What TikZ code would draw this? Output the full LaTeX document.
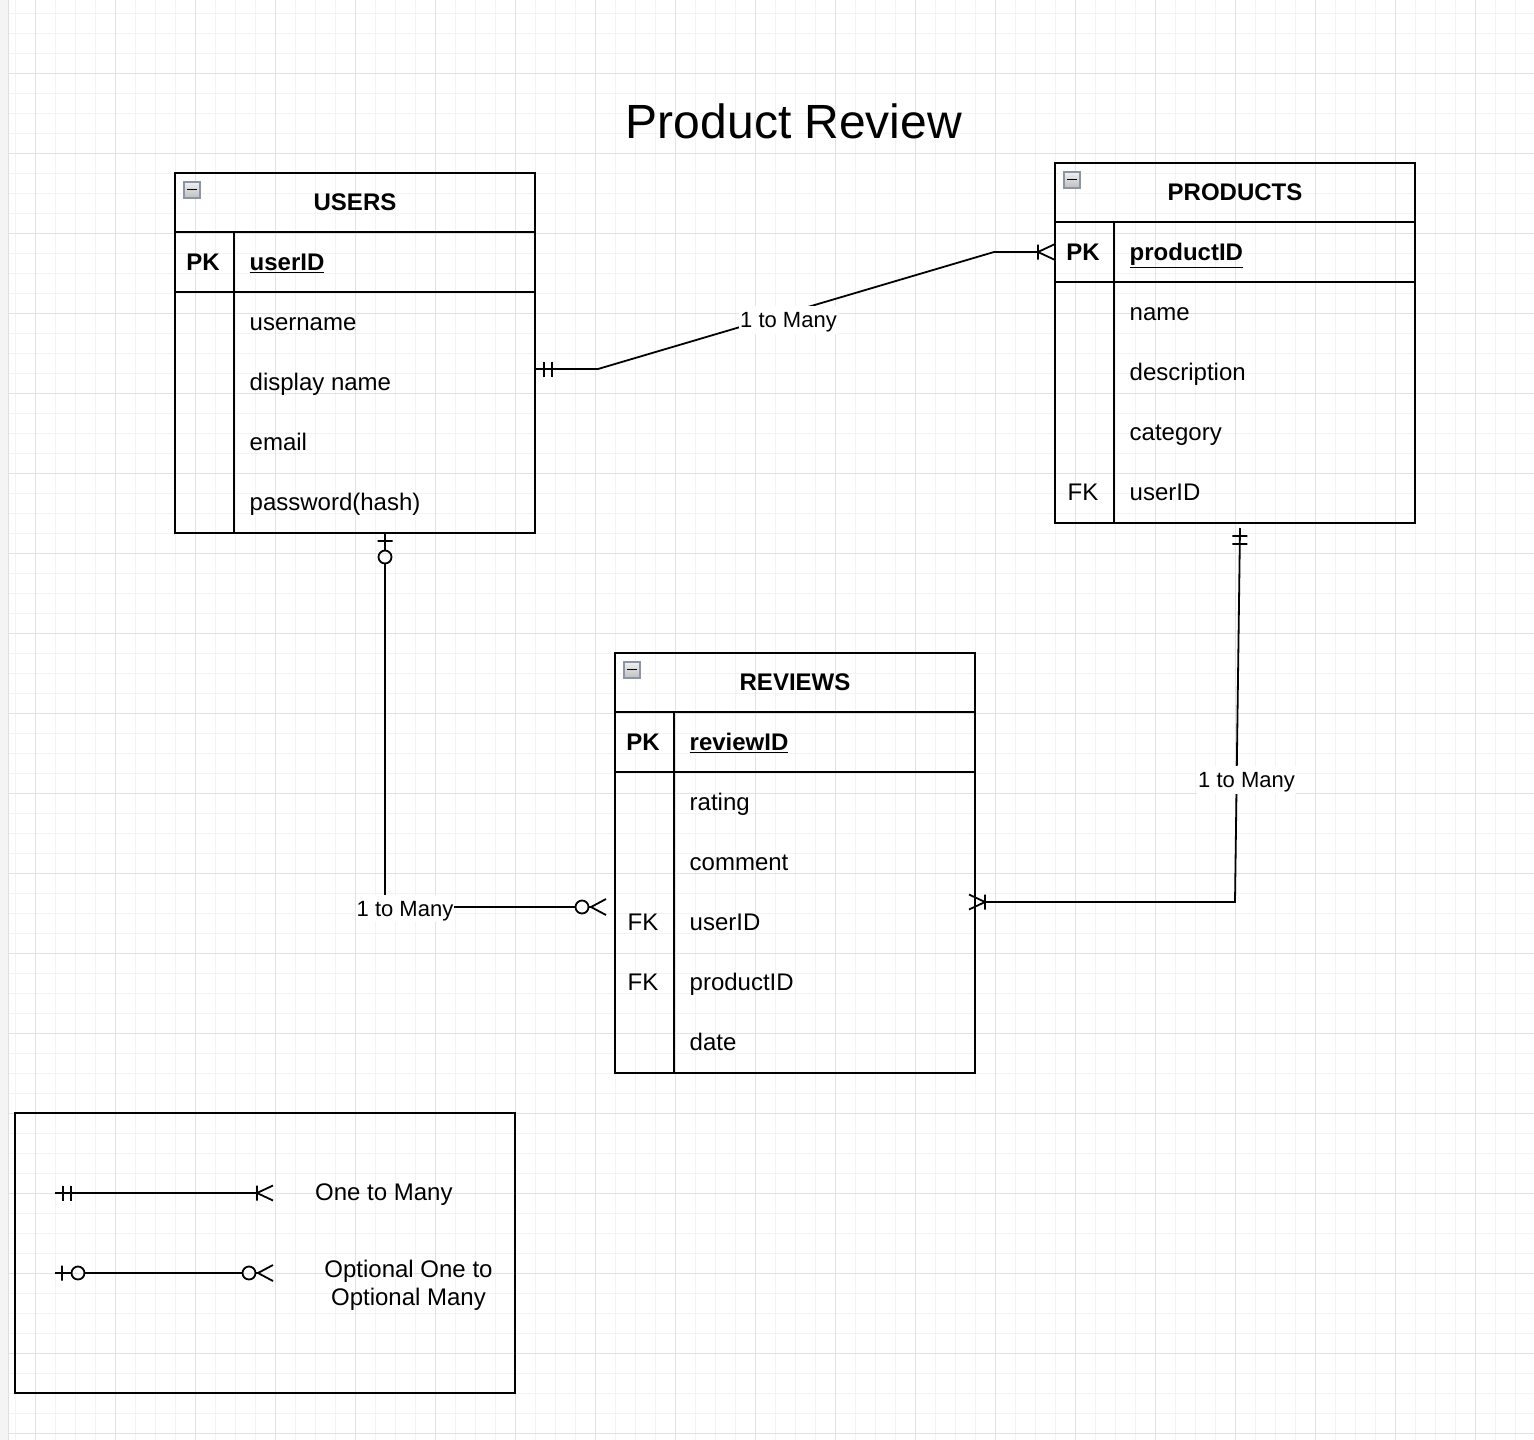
\documentclass[tikz,border=0pt]{standalone}
\usepackage{fontspec}
\setmainfont{Liberation Sans}
\usetikzlibrary{%
  calc,arrows.meta,positioning}

\definecolor{gridlight}{HTML}{F3F3F3}
\definecolor{griddark}{HTML}{E2E2E2}
\definecolor{iconedge}{HTML}{8A96A8}

% crow's foot tips
\pgfdeclarearrow{
  name = ERone,
  parameters = {\the\pgflinewidth},
  setup code = {
    \pgfarrowssettipend{0pt}
    \pgfarrowssetlineend{0pt}
    \pgfarrowssetbackend{-17pt}
    \pgfarrowssetvisualbackend{-17pt}
    \pgfarrowshullpoint{0pt}{7.5pt}
    \pgfarrowshullpoint{0pt}{-7.5pt}
    \pgfarrowshullpoint{-17pt}{7.5pt}
    \pgfarrowshullpoint{-17pt}{-7.5pt}
  },
  drawing code = {
    \pgfsetdash{}{0pt}
    \pgfpathmoveto{\pgfpoint{-8pt}{7.5pt}}
    \pgfpathlineto{\pgfpoint{-8pt}{-7.5pt}}
    \pgfpathmoveto{\pgfpoint{-16pt}{7.5pt}}
    \pgfpathlineto{\pgfpoint{-16pt}{-7.5pt}}
    \pgfusepathqstroke
  }
}
\pgfdeclarearrow{
  name = ERmany,
  parameters = {\the\pgflinewidth},
  setup code = {
    \pgfarrowssettipend{0pt}
    \pgfarrowssetlineend{-16pt}
    \pgfarrowssetbackend{-16pt}
    \pgfarrowssetvisualbackend{-16pt}
    \pgfarrowshullpoint{0pt}{7.5pt}
    \pgfarrowshullpoint{0pt}{-7.5pt}
    \pgfarrowshullpoint{-16pt}{7.5pt}
    \pgfarrowshullpoint{-16pt}{-7.5pt}
  },
  drawing code = {
    \pgfsetdash{}{0pt}
    \pgfpathmoveto{\pgfpoint{0pt}{7.5pt}}
    \pgfpathlineto{\pgfpoint{-16pt}{0pt}}
    \pgfpathlineto{\pgfpoint{0pt}{-7.5pt}}
    \pgfpathmoveto{\pgfpoint{-16pt}{7.5pt}}
    \pgfpathlineto{\pgfpoint{-16pt}{-7.5pt}}
    \pgfusepathqstroke
  }
}
\pgfdeclarearrow{
  name = ERzeroone,
  parameters = {\the\pgflinewidth},
  setup code = {
    \pgfarrowssettipend{0pt}
    \pgfarrowssetlineend{-29.5pt}
    \pgfarrowssetbackend{-29.5pt}
    \pgfarrowssetvisualbackend{-29.5pt}
    \pgfarrowshullpoint{0pt}{7.5pt}
    \pgfarrowshullpoint{0pt}{-7.5pt}
    \pgfarrowshullpoint{-30pt}{7pt}
    \pgfarrowshullpoint{-30pt}{-7pt}
  },
  drawing code = {
    \pgfsetdash{}{0pt}
    \pgfpathmoveto{\pgfpoint{0pt}{0pt}}
    \pgfpathlineto{\pgfpoint{-16.5pt}{0pt}}
    \pgfpathmoveto{\pgfpoint{-7pt}{7.5pt}}
    \pgfpathlineto{\pgfpoint{-7pt}{-7.5pt}}
    \pgfpathcircle{\pgfpoint{-23pt}{0pt}}{6.5pt}
    \pgfusepathqstroke
  }
}
\pgfdeclarearrow{
  name = ERzeromany,
  parameters = {\the\pgflinewidth},
  setup code = {
    \pgfarrowssettipend{0pt}
    \pgfarrowssetlineend{-30.5pt}
    \pgfarrowssetbackend{-30.5pt}
    \pgfarrowssetvisualbackend{-30.5pt}
    \pgfarrowshullpoint{0pt}{8pt}
    \pgfarrowshullpoint{0pt}{-8pt}
    \pgfarrowshullpoint{-31pt}{7pt}
    \pgfarrowshullpoint{-31pt}{-7pt}
  },
  drawing code = {
    \pgfsetdash{}{0pt}
    \pgfpathmoveto{\pgfpoint{0pt}{8pt}}
    \pgfpathlineto{\pgfpoint{-15pt}{0pt}}
    \pgfpathlineto{\pgfpoint{0pt}{-8pt}}
    \pgfpathmoveto{\pgfpoint{-15pt}{0pt}}
    \pgfpathlineto{\pgfpoint{-17.5pt}{0pt}}
    \pgfpathcircle{\pgfpoint{-24pt}{0pt}}{6.5pt}
    \pgfusepathqstroke
  }
}

\tikzset{
  minorgrid/.style={draw=gridlight,line width=1pt},
  majorgrid/.style={draw=griddark,line width=1pt},
  entity/.style={draw,line width=2pt,minimum width=360pt,inner sep=0pt},
  entline/.style={line width=2pt},
  conn/.style={line width=1.8pt},
  enthead/.style={font=\fontsize{24}{28}\selectfont\bfseries,
    text height=17.2pt,text depth=0pt,inner sep=0pt},
  keycol/.style={font=\fontsize{24}{28}\selectfont,
    text height=17.2pt,text depth=0pt,inner sep=0pt},
  attr/.style={keycol,anchor=west},
  minusbox/.style={draw=iconedge,line width=1.4pt,
    top color=gray!12,bottom color=gray!50,
    minimum size=16pt,inner sep=0pt},
  minusbar/.style={line width=1.6pt,black},
  lbl/.style={fill=white,font=\fontsize{22}{26}\selectfont,
    text height=15.8pt,text depth=0pt,inner xsep=1pt,inner ysep=6pt},
  keytext/.style={font=\fontsize{24}{28}\selectfont,inner sep=0pt}
}

\begin{document}
\begin{tikzpicture}[x=1pt,y=-1pt]
\useasboundingbox (0,0) rectangle (1534,1440);
\fill[white] (0,0) rectangle (1534,1440);
% canvas grid
\foreach \x in {15,35,...,1534} \draw[minorgrid] (\x,0) -- (\x,1440);
\foreach \y in {13,33,...,1440} \draw[minorgrid] (0,\y) -- (1534,\y);
\foreach \x in {35,115,...,1534} \draw[majorgrid] (\x,0) -- (\x,1440);
\foreach \y in {73,153,...,1440} \draw[majorgrid] (0,\y) -- (1534,\y);
\fill[gray!9] (0,0) rectangle (8,1440);
\draw[gray!25,line width=1pt] (8,0) -- (8,1440);

\node[font=\fontsize{48}{56}\selectfont,text height=34.4pt,text depth=0pt,
  inner sep=0pt] (title) at (794,121.5) {Product Review};

% USERS
\node[entity,minimum height=360pt] (users) at (355,353) {};
\draw[entline] ($(users.north west)+(0,60)$) -- ($(users.north east)+(0,60)$);
\draw[entline] ($(users.north west)+(0,120)$) -- ($(users.north east)+(0,120)$);
\draw[entline] ($(users.north west)+(60,60)$) -- ($(users.south west)+(60,0)$);
\node[minusbox] (usersMin) at ($(users.north west)+(18,18)$) {};
\draw[minusbar] (usersMin.center) +(-5,-0.5) -- +(5,-0.5);
\node[enthead] (usersT) at ($(users.north)+(0,30)$) {USERS};
\node[keycol,font=\fontsize{24}{28}\selectfont\bfseries] (usersPK)
  at ($(users.north west)+(29,90)$) {PK};
\node[attr,font=\fontsize{24}{28}\selectfont\bfseries] (usersID)
  at ($(users.north west)+(75.5,90)$) {\underline{userID}};
\foreach \t [count=\i] in {username,display name,email,password(hash)}
  \node[attr] (users-\i) at ($(users.north west)+(75.5,90+60*\i)$) {\t};

% PRODUCTS
\node[entity,minimum height=360pt] (products) at (1235,343) {};
\draw[entline] ($(products.north west)+(0,60)$) -- ($(products.north east)+(0,60)$);
\draw[entline] ($(products.north west)+(0,120)$) -- ($(products.north east)+(0,120)$);
\draw[entline] ($(products.north west)+(60,60)$) -- ($(products.south west)+(60,0)$);
\node[minusbox] (productsMin) at ($(products.north west)+(18,18)$) {};
\draw[minusbar] (productsMin.center) +(-5,-0.5) -- +(5,-0.5);
\node[enthead] (productsT) at ($(products.north)+(0,30)$) {PRODUCTS};
\node[keycol,font=\fontsize{24}{28}\selectfont\bfseries] (productsPK)
  at ($(products.north west)+(29,90)$) {PK};
\node[attr,font=\fontsize{24}{28}\selectfont\bfseries] (productsID)
  at ($(products.north west)+(75.5,90)$) {\underline{productID}};
\foreach \t [count=\i] in {name,description,category,userID}
  \node[attr] (products-\i) at ($(products.north west)+(75.5,90+60*\i)$) {\t};
\node[keycol] (productsFK) at ($(products.north west)+(29,330)$) {FK};

% REVIEWS
\node[entity,minimum height=420pt] (reviews) at (795,863) {};
\draw[entline] ($(reviews.north west)+(0,60)$) -- ($(reviews.north east)+(0,60)$);
\draw[entline] ($(reviews.north west)+(0,120)$) -- ($(reviews.north east)+(0,120)$);
\draw[entline] ($(reviews.north west)+(60,60)$) -- ($(reviews.south west)+(60,0)$);
\node[minusbox] (reviewsMin) at ($(reviews.north west)+(18,18)$) {};
\draw[minusbar] (reviewsMin.center) +(-5,-0.5) -- +(5,-0.5);
\node[enthead] (reviewsT) at ($(reviews.north)+(0,30)$) {REVIEWS};
\node[keycol,font=\fontsize{24}{28}\selectfont\bfseries] (reviewsPK)
  at ($(reviews.north west)+(29,90)$) {PK};
\node[attr,font=\fontsize{24}{28}\selectfont\bfseries] (reviewsID)
  at ($(reviews.north west)+(75.5,90)$) {\underline{reviewID}};
\foreach \t [count=\i] in {rating,comment,userID,productID,date}
  \node[attr] (reviews-\i) at ($(reviews.north west)+(75.5,90+60*\i)$) {\t};
\node[keycol] (reviewsFKa) at ($(reviews.north west)+(29,270)$) {FK};
\node[keycol] (reviewsFKb) at ($(reviews.north west)+(29,330)$) {FK};

% relationships
\draw[conn,{ERone[]}-{ERmany[]}] ($(users.east)+(0,16)$) -- +(62,0)
  -- ($(products.north west)+(-60,90)$) -- ($(products.north west)+(0,90)$);
\node[lbl] (relUP) at (788.5,320) {1 to Many};
\draw[conn,{ERzeroone[]}-{ERzeromany[]}] ($(users.south)+(30,0)$)
  |- ($(reviews.west)+(-8,44)$);
\node[lbl] (relUR) at (405,908.5) {1 to Many};
\draw[conn,{ERone[]}-{ERmany[]}] ($(products.south)+(5,4)$)
  -- ($(products.south |- reviews.east)+(0,39)$) -- ($(reviews.east)+(-7,39)$);
\node[lbl] (relPR) at (1246.5,780) {1 to Many};

% legend
\node[draw,line width=2pt,minimum width=500pt,minimum height=280pt]
  (legend) at (265,1253) {};
\coordinate (keyAs) at (55,1193);
\coordinate (keyAe) at (273,1193);
\coordinate (keyBs) at (55,1273);
\coordinate (keyBe) at (273,1273);
\draw[conn,{ERone[]}-{ERmany[]}] (keyAs) -- (keyAe);
\draw[conn,{ERzeroone[]}-{ERzeromany[]}] (keyBs) -- (keyBe);
\node[keytext,anchor=west,text height=17.2pt,text depth=0pt]
  (keyAt) at (315,1192) {One to Many};
\node[keytext,align=center,font=\fontsize{24}{28}\selectfont]
  (keyBt) at (408.5,1285) {Optional One to\\Optional Many};
\end{tikzpicture}
\end{document}
